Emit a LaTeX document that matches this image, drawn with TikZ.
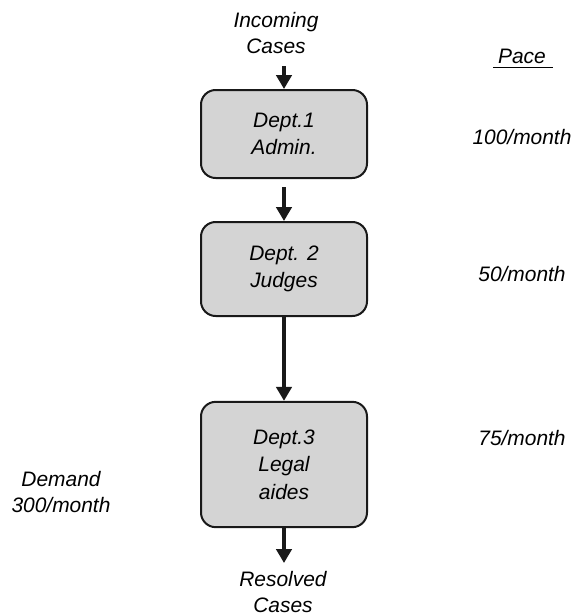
\documentclass[tikz,border=0pt]{standalone}
\usepackage{fontspec}
\setmainfont{Liberation Sans}
\usetikzlibrary{arrows.meta}
\begin{document}
\begin{tikzpicture}[x=0.75pt,y=-0.75pt,
  dept/.style={draw=black!90,line width=1.5pt,fill=boxgray,rounded corners=11pt,
    minimum width=124.5pt,align=center,inner sep=0pt,
    font=\fontsize{15.7}{20.5}\selectfont\itshape},
  lbl/.style={align=center,inner sep=0pt,font=\fontsize{15.7}{19}\selectfont\itshape},
  flow/.style={line width=2.8pt,draw=black!90,-{Triangle[width=11.5pt,length=10.5pt]}}]
\definecolor{boxgray}{RGB}{212,212,212}
\useasboundingbox (0,0) rectangle (574,615);
\node[dept,minimum height=66pt] (d1) at (284,134) {Dept.1\\Admin.};
\node[dept,minimum height=70.5pt] (d2) at (284,269) {Dept. 2\\Judges};
\node[dept,minimum height=94pt] (d3) at (284,464.5) {Dept.3\\Legal\\aides};
\node[lbl] (inc) at (276,33) {Incoming\\Cases};
\node[lbl] (res) at (283,592) {Resolved\\Cases};
\coordinate (inS) at (284,66);
\coordinate (outE) at (284,563);
\coordinate (a1) at (284,187);
\node[lbl] (pace) at (522,56) {Pace};
\draw[line width=1.4pt] (493,67.5) -- (553,67.5);
\node[lbl] (p1) at (522,137) {100/month};
\node[lbl] (p2) at (522,274) {50/month};
\node[lbl] (p3) at (522,438) {75/month};
\node[lbl] (dem) at (61,492) {Demand\\300/month};
\draw[flow] (inS) -- (d1.north);
\draw[flow] (a1) -- (d2.north);
\draw[flow] (d2.south) -- (d3.north);
\draw[flow] (d3.south) -- (outE);
\end{tikzpicture}
\end{document}
